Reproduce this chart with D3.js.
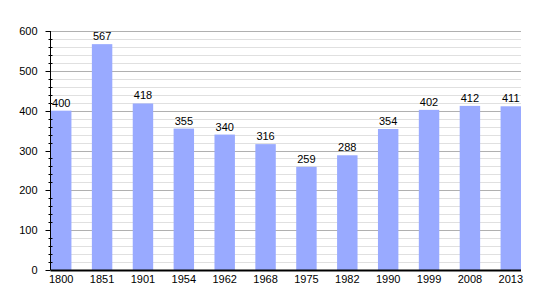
<!DOCTYPE html>
<html>
<head>
<meta charset="utf-8">
<script src="https://cdn.jsdelivr.net/npm/d3@7"></script>
<style>
  body { margin: 0; background: #fff; }
  text { font-family: "Liberation Sans", Arial, sans-serif; font-size: 11px; fill: #000; }
</style>
</head>
<body>
<svg id="chart" width="550" height="300"></svg>
<script>
var years = ['1800', '1851', '1901', '1954', '1962', '1968', '1975', '1982', '1990', '1999', '2008', '2013'];
var population = [400, 567, 418, 355, 340, 316, 259, 288, 354, 402, 412, 411];
var yTicks = [0, 100, 200, 300, 400, 500, 600];

var plotLeft = 50.5, plotRight = 521, plotTop = 31, plotBottom = 270;

var svg = d3.select('#chart');

var x = d3.scaleBand()
  .domain(years)
  .range([plotLeft + 0.5, plotRight])
  .paddingInner(0.5)
  .paddingOuter(0);

var y = d3.scaleLinear()
  .domain([0, 600])
  .range([plotBottom, plotTop]);

// minor grid every 20
var minor = d3.range(0, 601, 20).filter(d => d % 100 != 0);
svg.append('g')
  .selectAll('line')
  .data(minor)
  .enter()
  .append('line')
  .attr('x1', plotLeft)
  .attr('x2', plotRight)
  .attr('y1', d => Math.round(y(d)) + 0.5)
  .attr('y2', d => Math.round(y(d)) + 0.5)
  .attr('stroke', '#e0e0e0')
  .attr('stroke-width', 1);

// major grid every 100
svg.append('g')
  .selectAll('line')
  .data(yTicks.filter(d => d > 0))
  .enter()
  .append('line')
  .attr('x1', plotLeft)
  .attr('x2', plotRight)
  .attr('y1', d => Math.round(y(d)) + 0.5)
  .attr('y2', d => Math.round(y(d)) + 0.5)
  .attr('stroke', '#b0b0b0')
  .attr('stroke-width', 1);

// bars
svg.append('g')
  .selectAll('rect')
  .data(population)
  .enter()
  .append('rect')
  .attr('x', (d, i) => x(years[i]))
  .attr('y', d => y(d))
  .attr('width', x.bandwidth())
  .attr('height', d => plotBottom - y(d))
  .attr('fill', '#99aaff');

// value labels
svg.append('g')
  .selectAll('text')
  .data(population)
  .enter()
  .append('text')
  .attr('x', (d, i) => x(years[i]) + x.bandwidth() / 2)
  .attr('y', d => y(d) - 4)
  .attr('text-anchor', 'middle')
  .text(d => d);

// minor ticks crossing the axis
svg.append('g')
  .selectAll('line')
  .data(minor)
  .enter()
  .append('line')
  .attr('x1', plotLeft - 2)
  .attr('x2', plotLeft + 2)
  .attr('y1', d => Math.round(y(d)) + 0.5)
  .attr('y2', d => Math.round(y(d)) + 0.5)
  .attr('stroke', '#000');

// y axis major ticks
var yAxis = d3.axisLeft(y)
  .tickValues(yTicks)
  .tickSize(5)
  .tickPadding(8);

var yg = svg.append('g')
  .attr('transform', 'translate(' + plotLeft + ',0)')
  .call(yAxis);
yg.selectAll('.tick').attr('transform', d => 'translate(0,' + (Math.round(y(d)) + 0.5) + ')');
yg.selectAll('.tick line').attr('stroke', '#000');
yg.select('.domain').attr('d', 'M0,' + plotTop + 'V' + plotBottom).attr('stroke', '#000');
yg.selectAll('text')
  .style('font-family', '"Liberation Sans", Arial, sans-serif')
  .style('font-size', '11px');

// x axis
var xAxis = d3.axisBottom(x).tickSize(0).tickPadding(5);
var xg = svg.append('g')
  .attr('transform', 'translate(0,' + plotBottom + ')')
  .call(xAxis);
xg.select('.domain').attr('d', 'M' + plotLeft + ',0.5H' + plotRight).attr('stroke', '#000').attr('stroke-width', 2);
xg.selectAll('text')
  .style('font-family', '"Liberation Sans", Arial, sans-serif')
  .style('font-size', '11px');
</script>
</body>
</html>
